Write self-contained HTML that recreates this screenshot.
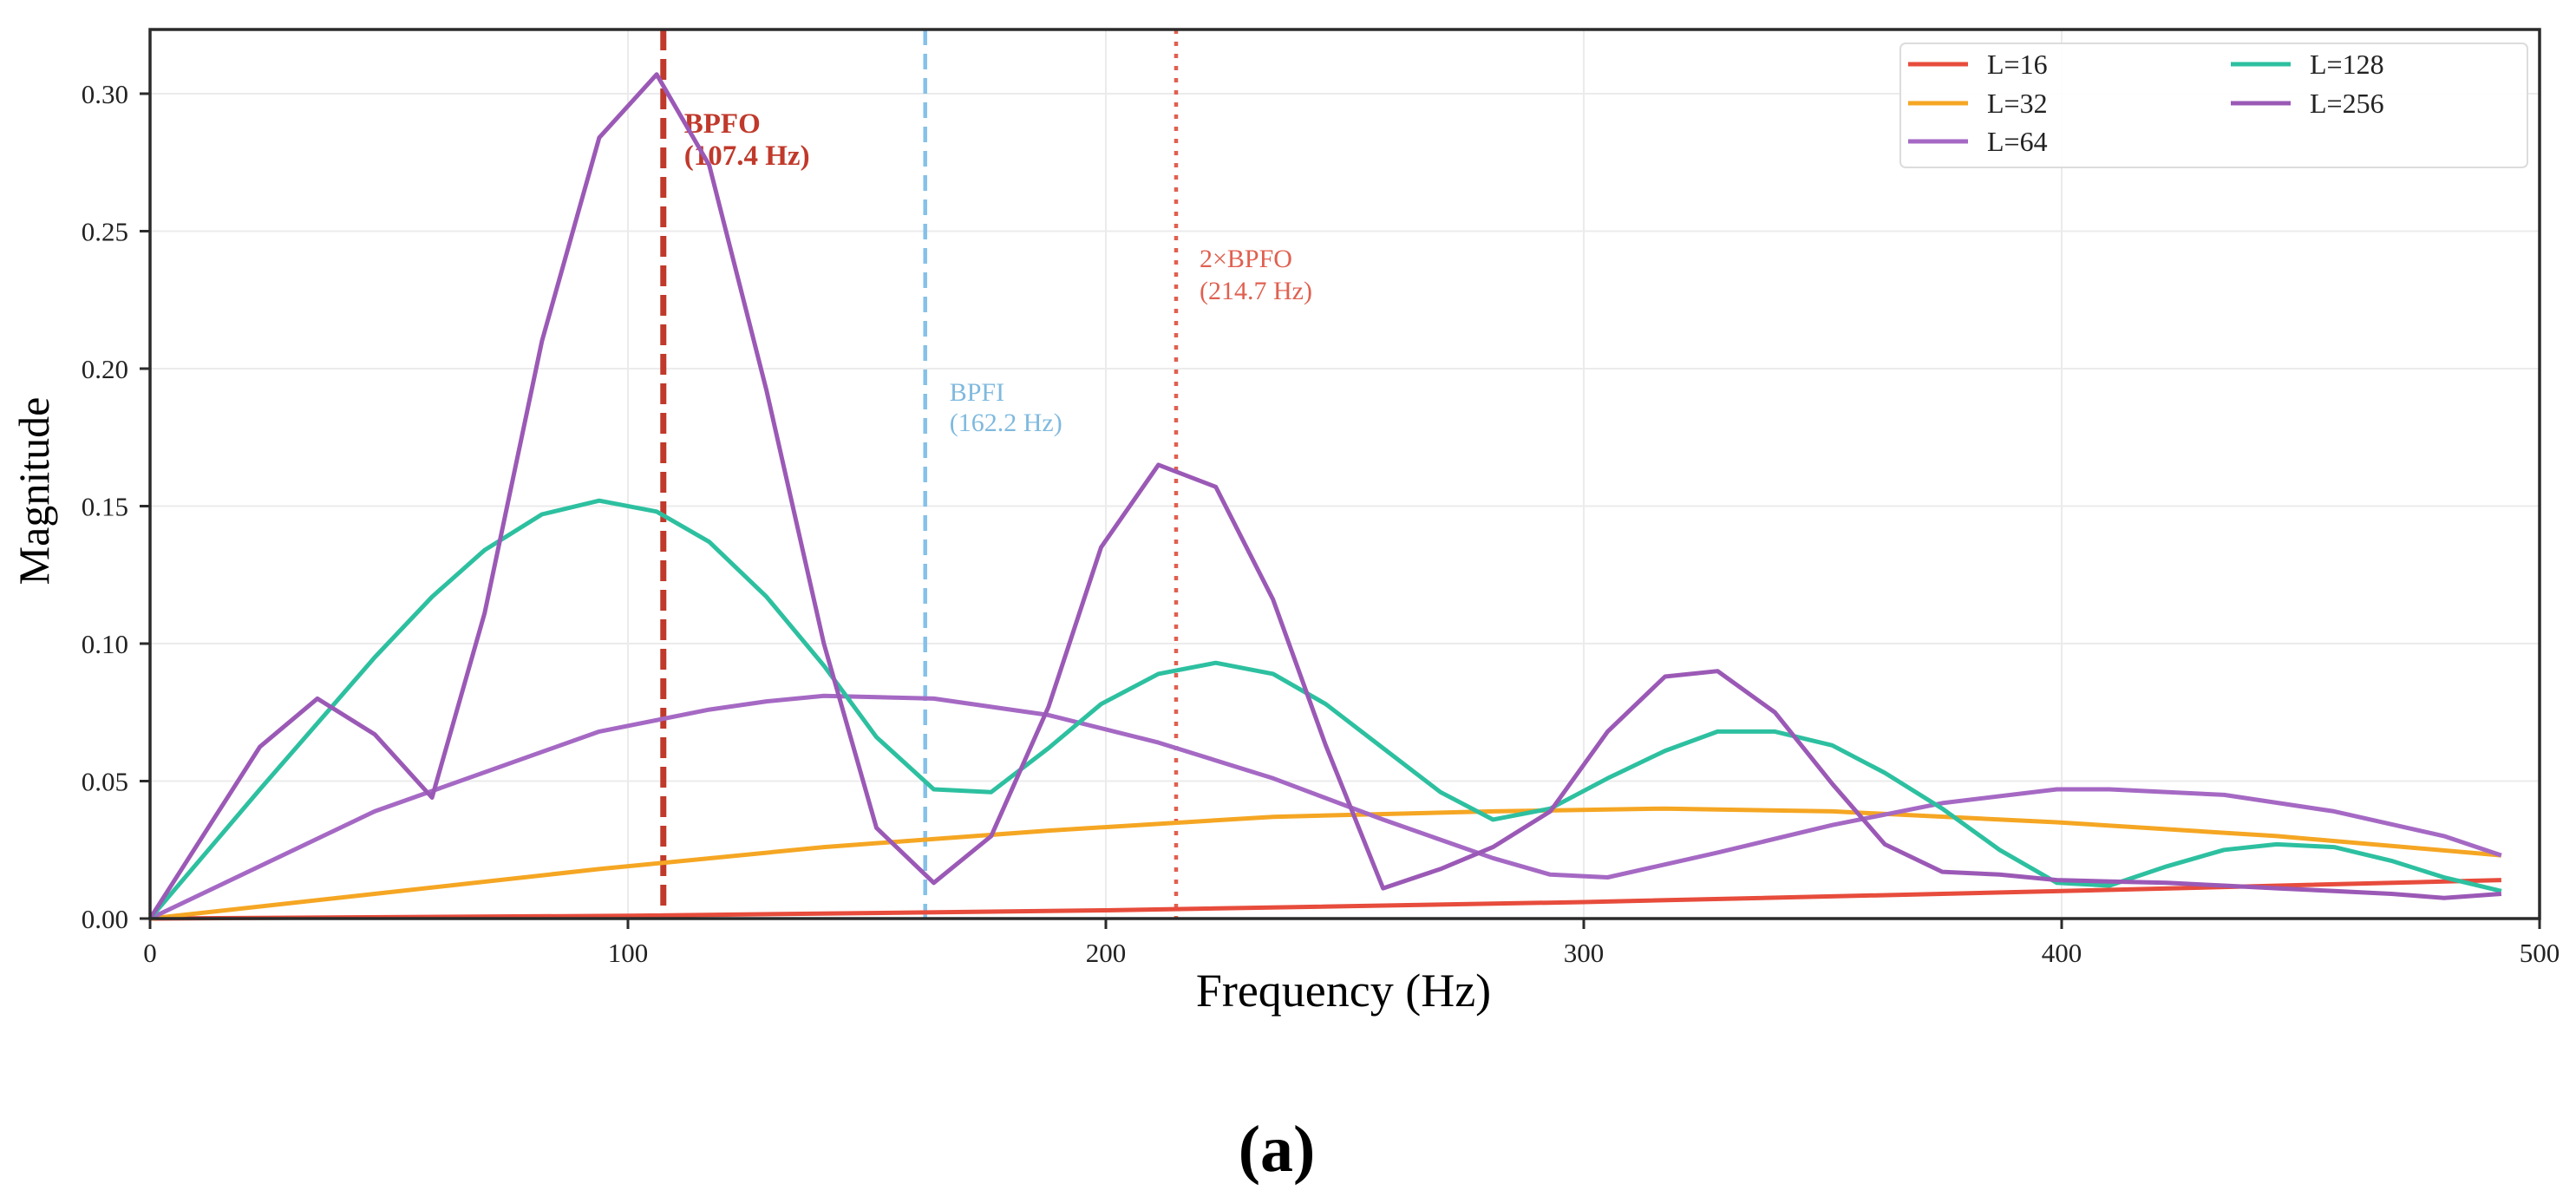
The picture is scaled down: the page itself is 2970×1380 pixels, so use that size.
<!DOCTYPE html>
<html><head><meta charset="utf-8">
<style>
html,body{margin:0;padding:0;background:#fff;}
svg{display:block;font-family:"Liberation Serif","DejaVu Serif",serif;}
</style></head>
<body>
<svg id="chart" width="2970" height="1380" viewBox="0 0 2970 1380" xmlns="http://www.w3.org/2000/svg">
  <g id="grid"></g>
  <g id="vlines"></g>
  <g id="series"></g>
  <g id="axes"></g>
  <g id="legend"></g>
  <text x="0" y="0" transform="translate(56,566) rotate(-90)" text-anchor="middle" font-size="50" fill="#000">Magnitude</text>
  <text x="1549" y="1160" text-anchor="middle" font-size="54" fill="#000">Frequency (Hz)</text>
  <text x="1472" y="1350" text-anchor="middle" font-size="76" font-weight="bold" fill="#000">(a)</text>
</svg>
<script>
const xTicks = [0, 100, 200, 300, 400, 500];
const yTicks = [0, 0.05, 0.10, 0.15, 0.20, 0.25, 0.30];
const yTickLabels = ["0.00","0.05","0.10","0.15","0.20","0.25","0.30"];

const fL16 = [0, 100, 200, 300, 400, 492];
const vL16 = [0, 0.001, 0.003, 0.006, 0.010, 0.014];

const fL32 = [0, 47, 94, 141, 188, 235, 281, 317, 352, 399, 445, 492];
const vL32 = [0, 0.009, 0.018, 0.026, 0.032, 0.037, 0.039, 0.040, 0.039, 0.035, 0.030, 0.023];

const fL64 = [0, 47, 94, 117, 129, 141, 164, 188, 211, 235, 258, 281, 293, 305, 328, 352, 375, 399, 410, 434, 457, 480, 492];
const vL64 = [0, 0.039, 0.068, 0.076, 0.079, 0.081, 0.080, 0.074, 0.064, 0.051, 0.036, 0.022, 0.016, 0.015, 0.024, 0.034, 0.042, 0.047, 0.047, 0.045, 0.039, 0.030, 0.023];

const fL128 = [0, 23, 47, 59, 70, 82, 94, 106, 117, 129, 141, 152, 164, 176, 188, 199, 211, 223, 235, 246, 258, 270, 281, 293, 305, 317, 328, 340, 352, 363, 375, 387, 399, 410, 422, 434, 445, 457, 469, 480, 492];
const vL128 = [0, 0.047, 0.095, 0.117, 0.134, 0.147, 0.152, 0.148, 0.137, 0.117, 0.092, 0.066, 0.047, 0.046, 0.062, 0.078, 0.089, 0.093, 0.089, 0.078, 0.062, 0.046, 0.036, 0.040, 0.051, 0.061, 0.068, 0.068, 0.063, 0.053, 0.040, 0.025, 0.013, 0.012, 0.019, 0.025, 0.027, 0.026, 0.021, 0.015, 0.010];

const fL256 = [0, 23, 35, 47, 59, 70, 82, 94, 106, 117, 129, 141, 152, 164, 176, 188, 199, 211, 223, 235, 246, 258, 270, 281, 293, 305, 317, 328, 340, 352, 363, 375, 387, 399, 410, 422, 434, 445, 457, 469, 480, 492];
const vL256 = [0, 0.0625, 0.080, 0.067, 0.044, 0.111, 0.210, 0.284, 0.307, 0.274, 0.192, 0.100, 0.033, 0.013, 0.030, 0.077, 0.135, 0.165, 0.157, 0.116, 0.063, 0.011, 0.018, 0.026, 0.039, 0.068, 0.088, 0.090, 0.075, 0.049, 0.027, 0.017, 0.016, 0.014, 0.0135, 0.013, 0.012, 0.011, 0.010, 0.009, 0.0075, 0.009];

const markerFreqs = [107.4, 162.2, 214.7];

const NS = "http://www.w3.org/2000/svg";
const X0 = 173, X1 = 2928, Y0 = 1059, YT = 34;
const xMax = 500, yPerUnit = (1059 - 900.5) / 0.05;
const sx = f => X0 + (f / xMax) * (X1 - X0);
const sy = v => Y0 - v * yPerUnit;

function mk(tag, attrs, parent) {
  const e = document.createElementNS(NS, tag);
  for (const k in attrs) e.setAttribute(k, attrs[k]);
  parent.appendChild(e);
  return e;
}
const grid = document.getElementById('grid');
const axes = document.getElementById('axes');
const vlines = document.getElementById('vlines');
const seriesG = document.getElementById('series');
const legend = document.getElementById('legend');

xTicks.forEach(t => {
  const l = mk('line', {x1: sx(t), x2: sx(t), y1: YT, y2: Y0, stroke: '#ebebeb', 'stroke-width': 2}, grid);
  
  
});
yTicks.forEach(t => {
  const l = mk('line', {x1: X0, x2: X1, y1: sy(t), y2: sy(t), stroke: '#ebebeb', 'stroke-width': 2}, grid);
  
  
});

const vl1 = mk('line', {x1: sx(markerFreqs[0]), x2: sx(markerFreqs[0]), y1: YT, y2: Y0, stroke: '#c0392b', 'stroke-width': 7, 'stroke-dasharray': '24 10'}, vlines);


const vl2 = mk('line', {x1: sx(markerFreqs[1]), x2: sx(markerFreqs[1]), y1: YT, y2: Y0, stroke: '#85c1e9', 'stroke-width': 4.5, 'stroke-dasharray': '18 10'}, vlines);


const vl3 = mk('line', {x1: sx(markerFreqs[2]), x2: sx(markerFreqs[2]), y1: YT, y2: Y0, stroke: '#e06050', 'stroke-width': 4.5, 'stroke-dasharray': '5 9'}, vlines);



function label(lines, x, ys, color, size, weight, name) {
  lines.forEach((s, i) => {
    const t = mk('text', {x: x, y: ys[i], fill: color, 'font-size': size, 'font-weight': weight}, vlines);
    t.textContent = s;
    
    
  });
}
label(['BPFO', '(107.4 Hz)'], sx(markerFreqs[0]) + 24, [153, 190], '#c0392b', 33, 'bold', 'bpfo-annotation');
label(['BPFI', '(162.2 Hz)'], sx(markerFreqs[1]) + 28, [462, 497], '#7fb9de', 30, 'normal', 'bpfi-annotation');
label(['2\u00d7BPFO', '(214.7 Hz)'], sx(markerFreqs[2]) + 27, [308, 345], '#e06050', 30, 'normal', 'two-bpfo-annotation');

const series = [
  {f: fL16, v: vL16, c: '#e74c3c', n: 'L=16'},
  {f: fL32, v: vL32, c: '#f5a623', n: 'L=32'},
  {f: fL64, v: vL64, c: '#a569c4', n: 'L=64'},
  {f: fL128, v: vL128, c: '#2dc0a0', n: 'L=128'},
  {f: fL256, v: vL256, c: '#9b59b6', n: 'L=256'}
];
series.forEach(s => {
  const d = s.f.map((f, i) => (i ? 'L' : 'M') + sx(f).toFixed(1) + ' ' + sy(s.v[i]).toFixed(1)).join(' ');
  const p = mk('path', {d: d, fill: 'none', stroke: s.c, 'stroke-width': 5, 'stroke-linejoin': 'round'}, seriesG);
  
  
});

const frame = mk('rect', {x: X0, y: YT, width: X1 - X0, height: Y0 - YT, fill: 'none', stroke: '#2b2b2b', 'stroke-width': 3.5}, axes);


xTicks.forEach(t => {
  const l = mk('line', {x1: sx(t), x2: sx(t), y1: Y0, y2: Y0 + 12, stroke: '#2b2b2b', 'stroke-width': 3}, axes);
  
  
  const tx = mk('text', {x: sx(t), y: Y0 + 50, 'text-anchor': 'middle', 'font-size': 31, fill: '#222'}, axes);
  tx.textContent = String(t);
  
  
});
yTicks.forEach((t, i) => {
  const l = mk('line', {x1: X0 - 12, x2: X0, y1: sy(t), y2: sy(t), stroke: '#2b2b2b', 'stroke-width': 3}, axes);
  
  
  const tx = mk('text', {x: X0 - 25, y: sy(t) + 11, 'text-anchor': 'end', 'font-size': 31, fill: '#222'}, axes);
  tx.textContent = yTickLabels[i];
  
  
});

const box = mk('rect', {x: 2191, y: 50, width: 723, height: 143, rx: 6, fill: '#fff', 'fill-opacity': 0.9, stroke: '#dcdcdc', 'stroke-width': 2}, legend);


const legPos = [[2200, 74], [2200, 119], [2200, 163], [2572, 74], [2572, 119]];
series.forEach((s, i) => {
  const [lx, ly] = legPos[i];
  const g = mk('g', {}, legend);
  
  
  mk('line', {x1: lx, x2: lx + 69, y1: ly, y2: ly, stroke: s.c, 'stroke-width': 5}, g);
  const t = mk('text', {x: lx + 91, y: ly + 11, 'font-size': 32, fill: '#222'}, g);
  t.textContent = s.n;
});
</script>
</body></html>
